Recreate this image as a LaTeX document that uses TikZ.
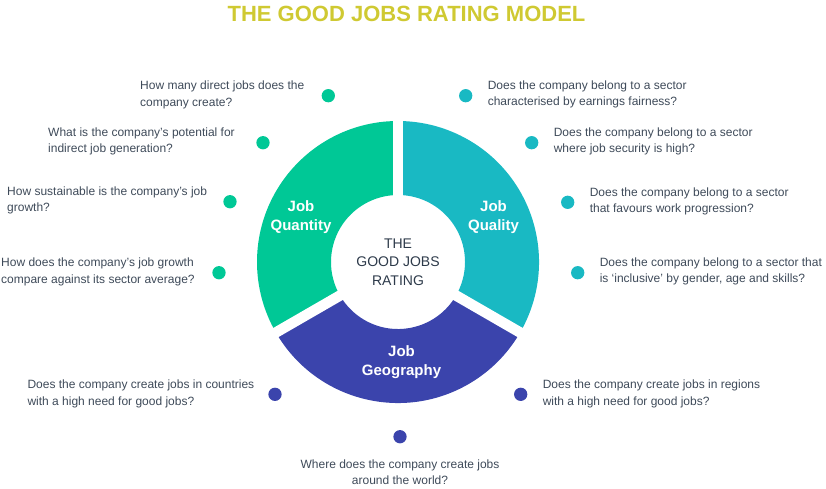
\documentclass[tikz,border=0pt]{standalone}
\usepackage{fontspec}
\setmainfont{Liberation Sans}
\usetikzlibrary{positioning}

\definecolor{qtygreen}{HTML}{00C896}
\definecolor{qlyteal}{HTML}{19B9C3}
\definecolor{geoblue}{HTML}{3B44AC}
\definecolor{titleyellow}{HTML}{CFC932}
\definecolor{txtgray}{HTML}{3E4A59}
\definecolor{coregray}{HTML}{2D3A4A}

\begin{document}
\begin{tikzpicture}[
  x=1pt, y=1pt,
  node distance=15pt,
  dot/.style={circle, inner sep=0pt, minimum size=13.3pt},
  question/.style={inner sep=0pt, align=left, text=txtgray, font=\fontsize{12}{16.3}\selectfont},
  seglabel/.style={align=center, text=white, font=\bfseries\fontsize{15}{18.3}\selectfont},
  core/.style={align=center, text=coregray, font=\fontsize{14}{18.3}\selectfont}
]
\useasboundingbox (0,0) rectangle (826,-488);

\node[text=titleyellow, font=\bfseries\fontsize{22}{26}\selectfont] (title) at (406.5,-14) {THE GOOD JOBS RATING MODEL};

% the ring
\coordinate (c) at (398,-262);
\begin{scope}[shift={(c)}]
\fill[qtygreen] (90:141) arc[start angle=90, end angle=210, radius=141] -- (210:67) arc[start angle=210, end angle=90, radius=67] -- cycle;
\fill[qlyteal] (-30:141) arc[start angle=-30, end angle=90, radius=141] -- (90:67) arc[start angle=90, end angle=-30, radius=67] -- cycle;
\fill[geoblue] (210:141) arc[start angle=210, end angle=330, radius=141] -- (330:67) arc[start angle=330, end angle=210, radius=67] -- cycle;
\foreach \a in {90,210,330}
  \draw[white, line width=10.5pt] (0,0) -- (\a:146);
\end{scope}

\node[core] (rating) at (c) {THE\\GOOD JOBS\\RATING};
\node[seglabel] (quantity) at (301,-217) {Job\\Quantity};
\node[seglabel] (quality) at (493.5,-217) {Job\\Quality};
\node[seglabel] (geography) at (401.5,-362) {Job\\Geography};

% job quantity
\node[dot, fill=qtygreen] (dqn1) at (328.3,-95.7) {};
\node[dot, fill=qtygreen] (dqn2) at (263,-142.7) {};
\node[dot, fill=qtygreen] (dqn3) at (230,-201.7) {};
\node[dot, fill=qtygreen] (dqn4) at (219,-272.7) {};
\node[question, anchor=west] (qn1) at (140,-95) {How many direct jobs does the\\company create?};
\node[question, anchor=west] (qn2) at (48,-141.7) {What is the company’s potential for\\indirect job generation?};
\node[question, anchor=west] (qn3) at (7,-200.4) {How sustainable is the company’s job\\growth?};
\node[question, anchor=west] (qn4) at (1,-272) {How does the company’s job growth\\compare against its sector average?};

% job quality
\node[dot, fill=qlyteal] (dql1) at (465.7,-95.7) {};
\node[dot, fill=qlyteal] (dql2) at (531.7,-142.7) {};
\node[dot, fill=qlyteal] (dql3) at (567.7,-202.3) {};
\node[dot, fill=qlyteal] (dql4) at (577.7,-272.7) {};
\node[question, right=of dql1, yshift=1pt] (ql1) {Does the company belong to a sector\\characterised by earnings fairness?};
\node[question, right=of dql2, yshift=1pt] (ql2) {Does the company belong to a sector\\where job security is high?};
\node[question, right=of dql3, yshift=1pt] (ql3) {Does the company belong to a sector\\that favours work progression?};
\node[question, right=of dql4, yshift=1pt] (ql4) {Does the company belong to a sector that\\is ‘inclusive’ by gender, age and skills?};

% job geography
\node[dot, fill=geoblue] (dgeo1) at (275,-394.3) {};
\node[dot, fill=geoblue] (dgeo2) at (520.7,-394.3) {};
\node[dot, fill=geoblue] (dgeo3) at (400,-436.7) {};
\node[question, anchor=west] (geo1) at (27.3,-394) {Does the company create jobs in countries\\with a high need for good jobs?};
\node[question, right=of dgeo2, yshift=0.3pt] (geo2) {Does the company create jobs in regions\\with a high need for good jobs?};
\node[question, align=center, anchor=north] (geo3) at (400,-459.5) {Where does the company create jobs\\around the world?};
\end{tikzpicture}
\end{document}
